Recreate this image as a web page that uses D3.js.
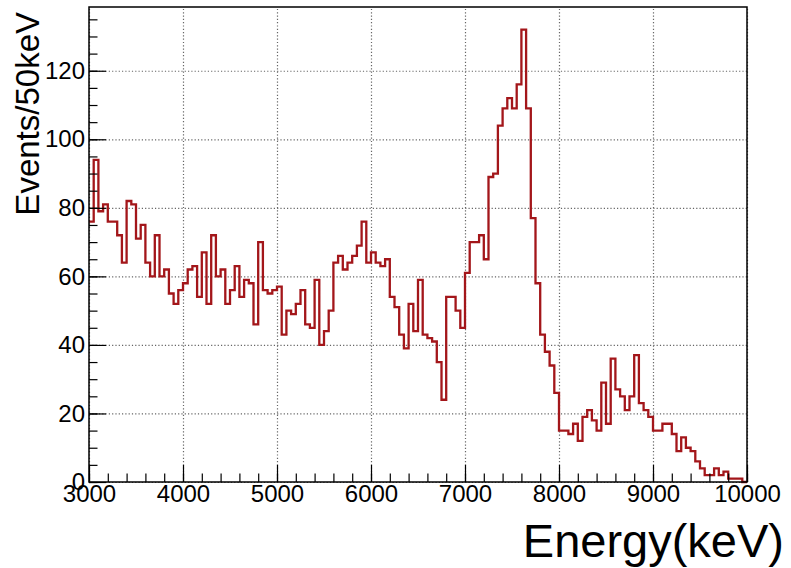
<!DOCTYPE html>
<html>
<head>
<meta charset="utf-8">
<script src="https://cdn.jsdelivr.net/npm/d3@7"></script>
<style>
  html, body { margin: 0; padding: 0; background: #fff; }
  svg text { font-family: "Liberation Sans", Arial, Helvetica, sans-serif; }
</style>
</head>
<body>
<div id="chart"></div>
<script>
// Events per 50 keV bin, from 3000 to 10000 keV (140 bins).
const counts = [
  76, 94, 79, 81, 76, 76, 72, 64, 82, 81,
  71, 75, 64, 60, 72, 60, 62, 55, 52, 56,
  58, 62, 63, 54, 67, 52, 72, 60, 62, 52,
  56, 63, 54, 59, 58, 46, 70, 56, 55, 56,
  57, 43, 50, 49, 52, 56, 46, 45, 59, 40,
  44, 50, 64, 66, 62, 64, 66, 69, 76, 64,
  67, 64, 63, 65, 54, 51, 43, 39, 52, 44,
  59, 43, 42, 41, 35, 24, 54, 54, 50, 45,
  61, 70, 70, 72, 65, 89, 90, 104, 109, 112,
  109, 116, 132, 109, 77, 58, 43, 38, 34, 26,
  15, 15, 14, 17, 12, 19, 21, 18, 15, 29,
  17, 36, 27, 25, 21, 25, 37, 23, 21, 19,
  15, 15, 17, 17, 14, 9, 13, 10, 9, 6,
  4, 2, 2, 4, 2, 3, 1, 1, 1, 0
];
const energyRange = [3000, 10000];
const binWidth = 50;
const xTickValues = [3000, 4000, 5000, 6000, 7000, 8000, 9000, 10000];
const yTickValues = [0, 20, 40, 60, 80, 100, 120];
const xTitle = 'Energy(keV)';
const yTitle = 'Events/50keV';

const attrs = {
  svgWidth: 791,
  svgHeight: 568,
  marginTop: 7,
  marginBottom: 86,
  marginRight: 44,
  marginLeft: 89,
  container: '#chart',
  lineColor: '#a3161a',
  gridColor: '#666',
  majorTick: 17,
  minorTick: 8.5,
  labelSize: 24,
  xTitleSize: 47,
  yTitleSize: 33
};

const calc = {};
calc.chartWidth = attrs.svgWidth - attrs.marginLeft - attrs.marginRight;
calc.chartHeight = attrs.svgHeight - attrs.marginTop - attrs.marginBottom;

// ROOT leaves 5% headroom above the highest bin.
const yMax = d3.max(counts) * 1.05;

const xScale = d3.scaleLinear().domain(energyRange).range([0, calc.chartWidth]);
const yScale = d3.scaleLinear().domain([0, yMax]).range([calc.chartHeight, 0]);

// Step points: left edge of each bin, plus the closing right edge.
const points = counts.map((c, i) => ({ x: energyRange[0] + i * binWidth, y: c }));
points.push({ x: energyRange[1], y: counts[counts.length - 1] });

const svg = d3.select(attrs.container)
  .append('svg')
  .attr('width', attrs.svgWidth)
  .attr('height', attrs.svgHeight);

const chart = svg.append('g')
  .attr('transform', 'translate(' + attrs.marginLeft + ',' + attrs.marginTop + ')');

// Dotted grid at major ticks.
chart.append('g')
  .attr('class', 'grid-x')
  .attr('transform', 'translate(0,' + calc.chartHeight + ')')
  .call(d3.axisBottom(xScale).tickValues(xTickValues).tickSize(-calc.chartHeight).tickFormat(''))
  .call(g => g.select('.domain').remove());

chart.append('g')
  .attr('class', 'grid-y')
  .call(d3.axisLeft(yScale).tickValues(yTickValues).tickSize(-calc.chartWidth).tickFormat(''))
  .call(g => g.select('.domain').remove());

chart.selectAll('.grid-x line, .grid-y line')
  .attr('stroke', attrs.gridColor)
  .attr('stroke-width', 1.2)
  .attr('stroke-dasharray', '1.2 2.1');

// Histogram outline.
const line = d3.line()
  .x(d => xScale(d.x))
  .y(d => yScale(d.y))
  .curve(d3.curveStepAfter);

chart.append('path')
  .datum(points)
  .attr('d', line)
  .attr('fill', 'none')
  .attr('stroke', attrs.lineColor)
  .attr('stroke-width', 2.3);

// Minor ticks (inside the frame).
chart.append('g')
  .attr('class', 'x-minor')
  .attr('transform', 'translate(0,' + calc.chartHeight + ')')
  .call(d3.axisBottom(xScale).ticks(35).tickSize(-attrs.minorTick).tickFormat(''))
  .call(g => g.select('.domain').remove());

chart.append('g')
  .attr('class', 'y-minor')
  .call(d3.axisLeft(yScale).ticks(28).tickSize(-attrs.minorTick).tickFormat(''))
  .call(g => g.select('.domain').remove());

// Major ticks with labels.
chart.append('g')
  .attr('class', 'x-axis')
  .attr('transform', 'translate(0,' + calc.chartHeight + ')')
  .call(d3.axisBottom(xScale).tickValues(xTickValues).tickSize(-attrs.majorTick).tickPadding(3).tickFormat(d3.format('d')))
  .call(g => g.select('.domain').remove());

chart.append('g')
  .attr('class', 'y-axis')
  .call(d3.axisLeft(yScale).tickValues(yTickValues).tickSize(-attrs.majorTick).tickPadding(4).tickFormat(d3.format('d')))
  .call(g => g.select('.domain').remove());

chart.selectAll('.x-minor line, .y-minor line, .x-axis line, .y-axis line')
  .attr('stroke', '#000')
  .attr('stroke-width', 1.2);

chart.selectAll('.x-axis text, .y-axis text')
  .attr('fill', '#000')
  .style('font-size', attrs.labelSize + 'px')
  .style('font-family', '"Liberation Sans", Arial, sans-serif');

// Frame.
chart.append('rect')
  .attr('x', 0)
  .attr('y', 0)
  .attr('width', calc.chartWidth)
  .attr('height', calc.chartHeight)
  .attr('fill', 'none')
  .attr('stroke', '#000')
  .attr('stroke-width', 1.5);

// Axis titles, aligned to the axis ends like ROOT does.
svg.append('text')
  .attr('x', 784)
  .attr('y', 557)
  .attr('text-anchor', 'end')
  .style('font-size', attrs.xTitleSize + 'px')
  .text(xTitle);

svg.append('text')
  .attr('transform', 'translate(39,12) rotate(-90)')
  .attr('text-anchor', 'end')
  .style('font-size', attrs.yTitleSize + 'px')
  .text(yTitle);
</script>
</body>
</html>
